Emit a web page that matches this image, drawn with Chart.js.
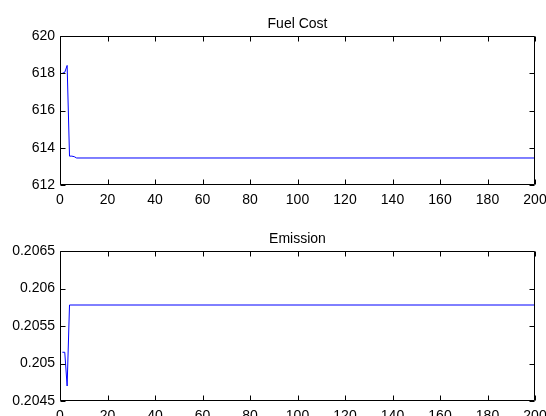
<!DOCTYPE html>
<html lang="en">
<head>
<meta charset="UTF-8">
<title>Fuel Cost / Emission</title>
<script src="https://cdn.jsdelivr.net/npm/chart.js"></script>
<style>
    html, body { margin: 0; padding: 0; background: #fff; }
    body { width: 546px; height: 416px; position: relative; overflow: hidden; }
    canvas { position: absolute; left: 0; }
    #fuelChart { top: 0; }
    #emissionChart { top: 208px; }
</style>
</head>
<body>
<canvas id="fuelChart" width="546" height="208"></canvas>
<canvas id="emissionChart" width="546" height="208"></canvas>
<script>
    // iterations where the curves change (after 7 both stay flat up to 200)
    const fuelIters = [1, 2, 3, 4, 5, 6, 7, 200];
    const fuelCost = [618.0, 618.05, 618.42, 613.55, 613.55, 613.52, 613.45, 613.45];

    const emissionIters = [1, 2, 3, 4, 200];
    const emission = [0.20515, 0.20515, 0.2047, 0.20578, 0.20578];

    const FONT = { family: 'Liberation Sans, Arial, sans-serif', size: 14 };

    // MATLAB-like box with inward ticks on all four sides, plus title
    const matlabAxes = {
        id: 'matlabAxes',
        afterDraw(chart, args, opts) {
            const { ctx, chartArea: a, scales } = chart;
            const L = Math.round(a.left) + 0.5, R = Math.round(a.right) - 0.5;
            const T = Math.round(a.top) + 0.5, B = Math.round(a.bottom) - 0.5;
            const len = 5;
            ctx.save();
            ctx.strokeStyle = '#000';
            ctx.lineWidth = 1;
            ctx.beginPath();
            ctx.rect(L, T, R - L, B - T);
            scales.x.ticks.forEach(t => {
                const px = Math.round(scales.x.getPixelForValue(t.value)) + 0.5;
                ctx.moveTo(px, B); ctx.lineTo(px, B - len);
                ctx.moveTo(px, T); ctx.lineTo(px, T + len);
            });
            scales.y.ticks.forEach(t => {
                const py = Math.round(scales.y.getPixelForValue(t.value)) + 0.5;
                ctx.moveTo(L, py); ctx.lineTo(L + len, py);
                ctx.moveTo(R, py); ctx.lineTo(R - len, py);
            });
            ctx.stroke();
            ctx.fillStyle = '#000';
            ctx.font = FONT.size + 'px ' + FONT.family;
            ctx.textAlign = 'center';
            ctx.textBaseline = 'alphabetic';
            ctx.fillText(opts.text, (a.left + a.right) / 2, a.top - 8);
            ctx.restore();
        }
    };

    function makeChart(id, iters, values, title, yMin, yMax, yStep, top, xAxisHeight) {
        const points = iters.map((x, i) => ({ x: x, y: values[i] }));
        return new Chart(document.getElementById(id), {
            type: 'line',
            data: {
                datasets: [{
                    data: points,
                    borderColor: '#0000ff',
                    borderWidth: 1,
                    pointRadius: 0,
                    tension: 0,
                    fill: false
                }]
            },
            options: {
                responsive: false,
                animation: false,
                layout: { padding: { top: top, left: 0, right: 11, bottom: 0 } },
                plugins: {
                    legend: { display: false },
                    tooltip: { enabled: false },
                    matlabAxes: { text: title }
                },
                scales: {
                    x: {
                        type: 'linear',
                        min: 0, max: 200,
                        grid: { display: false, drawTicks: false },
                        border: { display: false },
                        ticks: { stepSize: 20, color: '#000', font: FONT, padding: 7, maxRotation: 0 },
                        afterFit(scale) {
                            scale.height = xAxisHeight;
                            scale.paddingLeft = 0;
                            scale.paddingRight = 0;
                        }
                    },
                    y: {
                        min: yMin, max: yMax,
                        grid: { display: false, drawTicks: false },
                        border: { display: false },
                        ticks: {
                            stepSize: yStep, color: '#000', font: FONT, padding: 5,
                            callback: v => String(+v.toFixed(4))
                        },
                        afterFit(scale) {
                            scale.width = 60;
                            scale.paddingTop = 0;
                            scale.paddingBottom = 0;
                        }
                    }
                }
            },
            plugins: [matlabAxes]
        });
    }

    makeChart('fuelChart', fuelIters, fuelCost, 'Fuel Cost', 612, 620, 2, 36, 23);
    makeChart('emissionChart', emissionIters, emission, 'Emission', 0.2045, 0.2065, 0.0005, 43, 15);
</script>
</body>
</html>
